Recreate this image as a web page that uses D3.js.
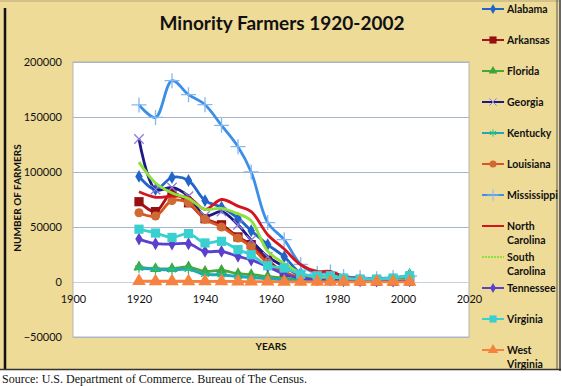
<!DOCTYPE html>
<html>
<head>
<meta charset="utf-8">
<script src="https://cdn.jsdelivr.net/npm/d3@7"></script>
<style>
  html, body { margin: 0; padding: 0; background: #fff; }
  svg { display: block; }
</style>
</head>
<body>
<div id="chart"></div>
<script>
const width = 562
const height = 386

const years = [1920, 1925, 1930, 1935, 1940, 1945, 1950, 1954, 1959, 1964, 1969, 1974, 1978, 1982, 1987, 1992, 1997, 2002]

const alabama = [96000, 84000, 95000, 92300, 74000, 68000, 58000, 46600, 34000, 23000, 8000, 4500, 4000, 3000, 2000, 1500, 1500, 2000]
const arkansas = [73000, 64000, 81000, 72000, 57500, 52000, 41000, 34000, 20000, 8500, 3500, 2000, 1800, 1200, 1000, 800, 800, 1000]
const florida = [13600, 12000, 12000, 13600, 9600, 10500, 7500, 6600, 5000, 3500, 2000, 1500, 1500, 1500, 1500, 1500, 2500, 7000]
const georgia = [130000, 84000, 86000, 78000, 60000, 64000, 52000, 38000, 23000, 14000, 6000, 3500, 3000, 2000, 1500, 1200, 1500, 1800]
const kentucky = [12700, 11500, 11000, 11500, 7000, 6500, 5000, 4000, 3000, 2000, 1000, 700, 600, 500, 400, 300, 300, 500]
const louisiana = [63000, 60000, 74000, 72000, 57000, 50000, 40000, 32000, 17000, 9000, 4000, 2500, 2000, 1500, 1200, 1000, 1000, 1200]
const mississippi = [161000, 149600, 183000, 170300, 161200, 142400, 123000, 100000, 54000, 38500, 16000, 8000, 9000, 5000, 4000, 3000, 4000, 5500]
const northCarolina = [82000, 77000, 78000, 77000, 66000, 75000, 69000, 64000, 43000, 30000, 15700, 9600, 9600, 5000, 3000, 2000, 1800, 2000]
const southCarolina = [109000, 90000, 81000, 76000, 66000, 67000, 62000, 55700, 28000, 17000, 8000, 4000, 3500, 2500, 2000, 1500, 1500, 2000]
const tennessee = [39000, 34800, 34500, 34800, 27800, 27800, 23300, 20000, 14000, 7000, 3500, 2000, 1800, 1200, 1000, 800, 800, 1000]
const virginia = [48000, 44500, 40500, 44000, 35500, 37000, 29400, 24800, 14800, 12700, 7000, 5700, 5700, 3600, 2700, 2700, 3600, 5700]
const westVirginia = [800, 700, 700, 650, 600, 550, 450, 400, 300, 200, 150, 100, 100, 100, 80, 80, 80, 100]

const yTicks = [-50000, 0, 50000, 100000, 150000, 200000]
const xTicks = [1900, 1920, 1940, 1960, 1980, 2000, 2020]

const series = [
  { name: 'Alabama', values: alabama, color: '#2264c8', marker: d3.symbolDiamond, size: 48, fill: '#2264c8' },
  { name: 'Arkansas', values: arkansas, color: '#a51616', marker: d3.symbolSquare, size: 85, fill: '#971010' },
  { name: 'Florida', values: florida, color: '#46a83a', marker: d3.symbolTriangle, size: 55, fill: '#3ea53a' },
  { name: 'Georgia', values: georgia, color: '#1d1a88', marker: d3.symbolTimes, size: 60, stroke: '#8a7ed6' },
  { name: 'Kentucky', values: kentucky, color: '#1fa8b8', marker: d3.symbolAsterisk, size: 60, stroke: '#2dbb7a' },
  { name: 'Louisiana', values: louisiana, color: '#d9561f', marker: d3.symbolCircle, size: 65, fill: '#d06a35' },
  { name: 'Mississippi', values: mississippi, color: '#3b8fe6', marker: d3.symbolPlus, size: 75, stroke: '#86b8f0' },
  { name: 'North Carolina', values: northCarolina, color: '#d4141e', marker: null },
  { name: 'South Carolina', values: southCarolina, color: '#8ee03a', marker: null, dash: true },
  { name: 'Tennessee', values: tennessee, color: '#5a40cc', marker: d3.symbolDiamond, size: 48, fill: '#5a40cc' },
  { name: 'Virginia', values: virginia, color: '#3ad0d0', marker: d3.symbolSquare, size: 85, fill: '#3ad0d0' },
  { name: 'West Virginia', values: westVirginia, color: '#f5823e', marker: d3.symbolTriangle, size: 80, fill: '#f5823e' }
]

const plot = { left: 73, right: 469, top: 62, bottom: 337 }

const svg = d3.select('#chart').append('svg').attr('width', width).attr('height', height)

// parchment frame
svg.append('rect').attr('x', 0).attr('y', 0).attr('width', 559).attr('height', 369).attr('fill', '#eedb98')
svg.append('line').attr('x1', 0).attr('x2', 559).attr('y1', 1).attr('y2', 1).attr('stroke', '#b9a878').attr('stroke-width', 1)
svg.append('line').attr('x1', 5).attr('x2', 5).attr('y1', 8).attr('y2', 369).attr('stroke', '#111').attr('stroke-width', 2.5)
svg.append('line').attr('x1', 557).attr('x2', 557).attr('y1', 0).attr('y2', 369).attr('stroke', '#555').attr('stroke-width', 1)
svg.append('line').attr('x1', 560).attr('x2', 560).attr('y1', 0).attr('y2', 371).attr('stroke', '#333').attr('stroke-width', 1.5)
svg.append('line').attr('x1', 0).attr('x2', 561).attr('y1', 369.5).attr('y2', 369.5).attr('stroke', '#333').attr('stroke-width', 1.5)

const xScale = d3.scaleLinear().domain([1900, 2020]).range([plot.left, plot.right])
const yScale = d3.scaleLinear().domain([-50000, 200000]).range([plot.bottom, plot.top])

svg.append('rect')
  .attr('x', plot.left).attr('y', plot.top)
  .attr('width', plot.right - plot.left).attr('height', plot.bottom - plot.top)
  .attr('fill', '#fff').attr('stroke', '#a8a8a8').attr('stroke-width', 0.8)

// gridlines + y labels
const yAxis = svg.append('g')
  .attr('transform', `translate(${plot.left},0)`)
  .call(d3.axisLeft(yScale).tickValues(yTicks).tickSize(-(plot.right - plot.left)).tickPadding(11).tickFormat(d3.format('d')))
yAxis.select('.domain').remove()
yAxis.selectAll('.tick line').attr('stroke', '#a7b6cc').attr('stroke-width', 1)
yAxis.selectAll('.tick text').attr('font-family', 'Lato, sans-serif').attr('font-size', 11).attr('fill', '#111')

const xAxis = svg.append('g')
  .attr('transform', `translate(0,${yScale(0)})`)
  .call(d3.axisBottom(xScale).tickValues(xTicks).tickSize(0).tickPadding(13).tickFormat(d3.format('d')))
xAxis.select('.domain').attr('stroke', '#c8d0dc')
xAxis.selectAll('.tick text').attr('font-family', 'Lato, sans-serif').attr('font-size', 11).attr('fill', '#111')

// lines
const line = d3.line()
  .x((d, i) => xScale(years[i]))
  .y(d => yScale(d))
  .curve(d3.curveCatmullRom)

series.forEach(s => {
  svg.append('path')
    .datum(s.values)
    .attr('fill', 'none')
    .attr('stroke', s.color)
    .attr('stroke-width', 2.8)
    .attr('stroke-linejoin', 'round')
    .attr('d', line)

  if (s.marker) {
    svg.append('g').selectAll('path')
      .data(s.values)
      .join('path')
      .attr('transform', (d, i) => `translate(${xScale(years[i])},${yScale(d)})`)
      .attr('d', d3.symbol(s.marker, s.size))
      .attr('fill', s.fill || 'none')
      .attr('stroke', s.stroke || 'none')
      .attr('stroke-width', s.stroke ? 1.3 : 0)
  }
})

// titles
svg.append('text')
  .attr('x', 282).attr('y', 30)
  .attr('text-anchor', 'middle')
  .attr('font-family', 'Lato, sans-serif').attr('font-weight', 'bold').attr('font-size', 19)
  .attr('fill', '#111')
  .text('Minority Farmers 1920-2002')

svg.append('text')
  .attr('transform', 'translate(21,198) rotate(-90)')
  .attr('text-anchor', 'middle')
  .attr('font-family', 'Lato, sans-serif').attr('font-weight', 'bold').attr('font-size', 10)
  .attr('fill', '#111')
  .text('NUMBER OF FARMERS')

svg.append('text')
  .attr('x', 271).attr('y', 350)
  .attr('text-anchor', 'middle')
  .attr('font-family', 'Lato, sans-serif').attr('font-weight', 'bold').attr('font-size', 10)
  .attr('fill', '#111')
  .text('YEARS')

// legend
const legend = svg.append('g')
series.forEach((s, i) => {
  const ly = 9 + i * 31
  const g = legend.append('g').attr('transform', `translate(0,${ly})`)
  g.append('line')
    .attr('x1', 482).attr('x2', 504).attr('y1', 0).attr('y2', 0)
    .attr('stroke', s.color).attr('stroke-width', 2)
    .attr('stroke-dasharray', s.dash ? '2,1' : null)
  if (s.marker) {
    g.append('path')
      .attr('transform', 'translate(493,0)')
      .attr('d', d3.symbol(s.marker, s.size * 0.6))
      .attr('fill', s.fill || 'none')
      .attr('stroke', s.stroke || 'none')
      .attr('stroke-width', s.stroke ? 1 : 0)
  }
  const words = s.name.split(' ')
  const t = g.append('text')
    .attr('x', 507).attr('y', 4)
    .attr('font-family', 'Lato, sans-serif').attr('font-weight', 'bold').attr('font-size', 10.5)
    .attr('fill', '#111')
  words.forEach((w, j) => {
    t.append('tspan').attr('x', 507).attr('dy', j === 0 ? 0 : 14).text(w)
  })
})

svg.append('text')
  .attr('x', 2).attr('y', 383)
  .attr('font-family', '"Liberation Serif", serif').attr('font-size', 12)
  .attr('fill', '#111')
  .text('Source: U.S. Department of Commerce. Bureau of The Census.')
</script>
</body>
</html>
